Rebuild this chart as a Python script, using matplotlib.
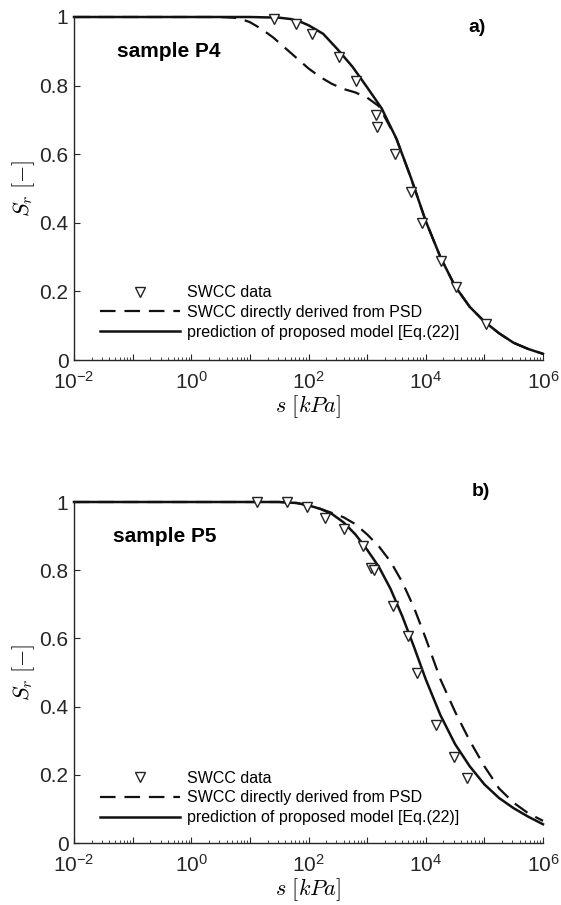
import numpy as np
import matplotlib
matplotlib.use("Agg")
import matplotlib.pyplot as plt
from matplotlib.ticker import LogLocator, NullFormatter

plt.rcParams['font.family'] = ['Liberation Sans', 'DejaVu Sans']
plt.rcParams['mathtext.fontset'] = 'custom'
plt.rcParams['mathtext.rm'] = 'Liberation Sans'
plt.rcParams['mathtext.it'] = 'Liberation Sans:italic'

# ---- data (suction in kPa, degree of saturation Sr) ----
# sample P4
p4_data_s = [26, 62, 115, 330, 645, 1400, 1450, 3000, 5650, 8700, 18300, 33000, 107000]
p4_data_sr = [0.995, 0.98, 0.95, 0.883, 0.813, 0.714, 0.68, 0.60, 0.49, 0.40, 0.29, 0.213, 0.105]

p4_model_logs = [-2, 0, 1, 1.5, 1.7, 1.85, 2.0, 2.25, 2.5, 2.75, 3.0, 3.25, 3.5, 3.75,
                 4.0, 4.25, 4.5, 4.75, 5.0, 5.25, 5.5, 5.75, 6.0]
p4_model_sr = [1, 1, 1, 0.998, 0.994, 0.987, 0.976, 0.951, 0.905, 0.855, 0.795, 0.733, 0.645, 0.53,
               0.405, 0.30, 0.215, 0.155, 0.112, 0.078, 0.05, 0.032, 0.018]

p4_psd_logs = [-2, 0, 0.5, 0.8, 1.0, 1.2, 1.4, 1.6, 1.8, 2.0, 2.2, 2.4, 2.6, 2.8, 3.0, 3.2,
               3.5, 3.75, 4.0, 4.25, 4.5, 4.75, 5.0, 5.25, 5.5, 5.75, 6.0]
p4_psd_sr = [1, 1, 1, 0.997, 0.985, 0.965, 0.94, 0.91, 0.88, 0.85, 0.825, 0.805, 0.79, 0.78,
             0.765, 0.74, 0.645, 0.53, 0.405, 0.30, 0.215, 0.155, 0.112, 0.078, 0.05, 0.032, 0.018]

# sample P5
p5_data_s = [13, 43, 93, 190, 400, 850, 1170, 1320, 2750, 5000, 7100, 15000, 30500, 51000]
p5_data_sr = [1.0, 1.0, 0.985, 0.953, 0.92, 0.87, 0.806, 0.80, 0.695, 0.607, 0.50, 0.346, 0.252, 0.19]

p5_model_logs = [-2, 0, 1, 1.5, 1.8, 2.0, 2.2, 2.4, 2.6, 2.8, 3.0, 3.2, 3.4, 3.6, 3.8,
                 4.0, 4.25, 4.5, 4.75, 5.0, 5.25, 5.5, 5.75, 6.0]
p5_model_sr = [1, 1, 1, 1, 0.997, 0.99, 0.98, 0.965, 0.94, 0.905, 0.86, 0.81, 0.745, 0.665, 0.575,
               0.48, 0.375, 0.29, 0.225, 0.172, 0.132, 0.102, 0.077, 0.055]

p5_psd_logs = [-2, 0, 1, 1.5, 1.8, 2.0, 2.2, 2.4, 2.6, 2.8, 3.0, 3.2, 3.4, 3.6, 3.8,
               4.0, 4.25, 4.5, 4.75, 5.0, 5.25, 5.5, 5.75, 6.0]
p5_psd_sr = [1, 1, 1, 1, 0.997, 0.99, 0.98, 0.968, 0.955, 0.935, 0.905, 0.87, 0.825, 0.765, 0.69,
             0.60, 0.48, 0.385, 0.30, 0.225, 0.16, 0.118, 0.087, 0.065]

x_decades = [-2, -1, 0, 1, 2, 3, 4, 5, 6]
x_labels = ['$\\mathregular{10^{-2}}$', '', '$\\mathregular{10^{0}}$', '',
            '$\\mathregular{10^{2}}$', '', '$\\mathregular{10^{4}}$', '', '$\\mathregular{10^{6}}$']
y_ticks = [0, 0.2, 0.4, 0.6, 0.8, 1.0]
y_labels = ['0', '0.2', '0.4', '0.6', '0.8', '1']

legend_labels = ['SWCC data', 'SWCC directly derived from PSD',
                 'prediction of proposed model [Eq.(22)]']

panels = [
    ("sample P4", "a)", p4_data_s, p4_data_sr, p4_psd_logs, p4_psd_sr, p4_model_logs, p4_model_sr),
    ("sample P5", "b)", p5_data_s, p5_data_sr, p5_psd_logs, p5_psd_sr, p5_model_logs, p5_model_sr),
]

fig = plt.figure(figsize=(5.61, 9.05), dpi=100)
ax_top = fig.add_axes([74/561, 1-360/905, 469/561, 343/905])
ax_bot = fig.add_axes([74/561, 1-843/905, 469/561, 341/905])

grey = '#262626'
# (sample label, panel tag, legend anchor) in axes fractions
label_pos = [((0.092, 0.898), (0.84, 0.97), 0.218),
             ((0.083, 0.90), (0.849, 1.03), 0.212)]

for ax, panel, (samp_xy, tag_xy, leg_y) in zip([ax_top, ax_bot], panels, label_pos):
    name, tag, ds, dsr, plogs, psr, mlogs, msr = panel
    l1, = ax.plot(ds, dsr, linestyle='none', marker='v', ms=6.5, mfc='white',
                  mec='#222222', mew=1.0, zorder=3, clip_on=False)
    l2, = ax.plot(10.0**np.array(plogs), psr, color='#111111', lw=1.6,
                  linestyle=(0, (7, 4)), clip_on=False)
    l3, = ax.plot(10.0**np.array(mlogs), msr, color='#111111', lw=1.8, clip_on=False)

    ax.set_xscale('log')
    ax.set_xlim(1e-2, 1e6)
    ax.set_ylim(0, 1)
    ax.spines[['top', 'right']].set_visible(False)
    for sp in ['left', 'bottom']:
        ax.spines[sp].set_color(grey)
        ax.spines[sp].set_linewidth(1.0)
    ax.set_xticks([10.0**d for d in x_decades], labels=x_labels)
    ax.xaxis.set_minor_locator(LogLocator(base=10, subs=np.arange(2, 10), numticks=100))
    ax.xaxis.set_minor_formatter(NullFormatter())
    ax.set_yticks(y_ticks, labels=y_labels)
    ax.tick_params(which='both', direction='in', colors=grey, labelsize=15,
                   top=False, right=False)
    ax.tick_params(axis='y', pad=4)
    ax.tick_params(axis='x', pad=8)
    ax.tick_params(which='major', length=4, width=0.8)
    ax.tick_params(which='minor', length=2, width=0.6)

    ax.set_xlabel(r'$s\ [kPa]$', fontsize=16, math_fontfamily='cm', labelpad=0)
    ax.set_ylabel(r'$S_r\ [-]$', fontsize=16, math_fontfamily='cm', labelpad=2)

    ax.text(samp_xy[0], samp_xy[1], name, transform=ax.transAxes, fontsize=15,
            fontweight='bold', ha='left', va='center')
    ax.text(tag_xy[0], tag_xy[1], tag, transform=ax.transAxes, fontsize=14,
            fontweight='bold', ha='left', va='center')

    ax.legend([l1, l2, l3], legend_labels, loc='upper left', bbox_to_anchor=(0.055, leg_y),
              frameon=False, fontsize=11.5, handlelength=5, handletextpad=0.45,
              labelspacing=0.3, borderpad=0, borderaxespad=0)

fig.savefig('out.png', dpi=100)
